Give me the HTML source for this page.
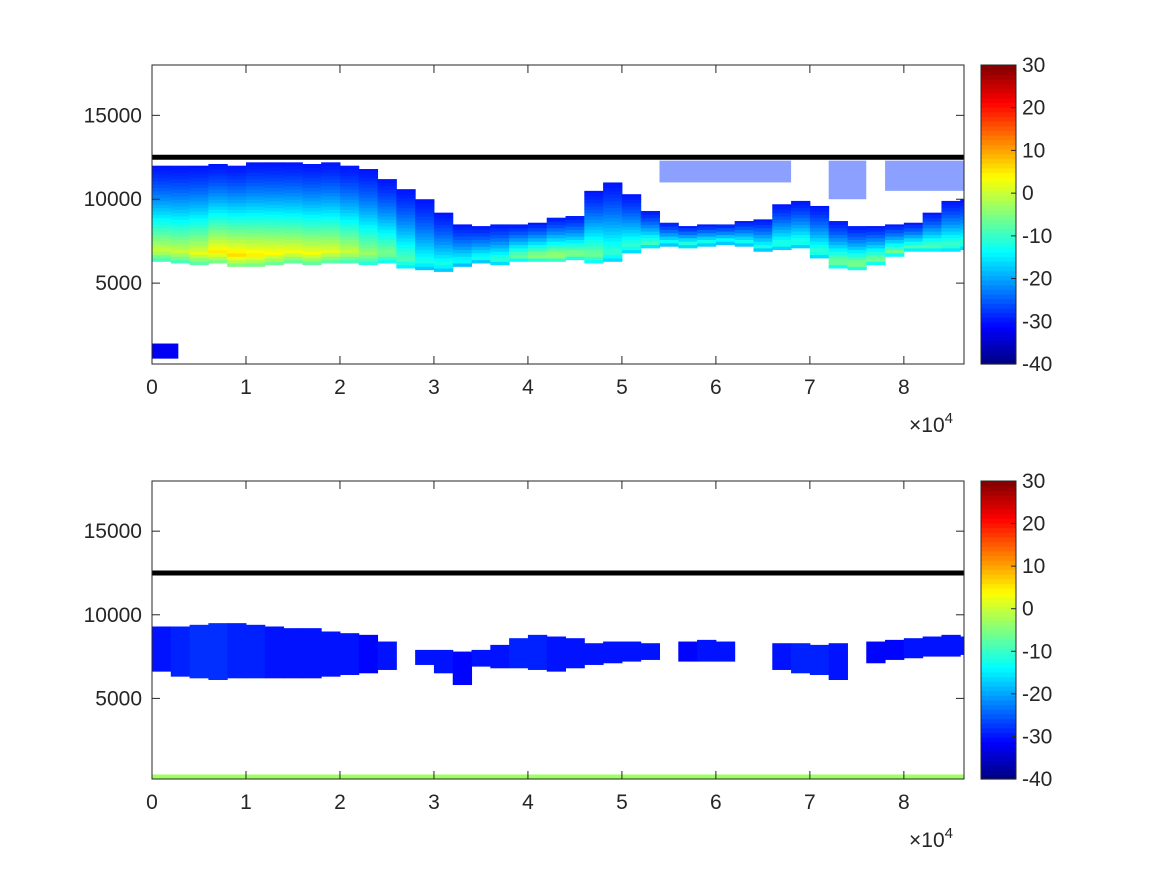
<!DOCTYPE html>
<html><head><meta charset="utf-8">
<style>
body{margin:0;background:#fff;}
svg text{font-family:"Liberation Sans",Helvetica,sans-serif;font-size:21px;fill:#262626;}
</style></head>
<body>
<svg id="fig" width="1167" height="875" viewBox="0 0 1167 875" xmlns="http://www.w3.org/2000/svg">
<defs>
<clipPath id="clipTop"><rect x="152" y="65" width="812" height="299"/></clipPath>
<clipPath id="clipBot"><rect x="152" y="481" width="812" height="298"/></clipPath>
</defs>
<rect width="1167" height="875" fill="#fff"/>
<g id="content"></g>
</svg>
<script>
// ---- data (2000 s bins, 0..86000 s) ----
const binTimes = [];
for (let i = 0; i < 44; i++) binTimes.push(1000 + 2000 * i);
const topCloudTop = [12000,12000,12000,12100,12000,12200,12200,12200,12100,12200,12000,11800,11200,10600,10000,9200,8500,8400,8500,8500,8600,8900,9000,10500,11000,10300,9300,8600,8400,8500,8500,8700,8800,9700,9900,9600,8700,8400,8400,8500,8600,9200,9900,10000];
const topCloudBase = [6300,6200,6100,6200,6000,6000,6100,6200,6100,6200,6200,6100,6200,5900,5800,5700,6000,6200,6100,6300,6300,6300,6400,6200,6300,6800,7100,7200,7100,7200,7300,7200,6900,7000,7100,6500,5900,5800,6100,6600,6900,6900,6900,7000];
const topCloudPeak = [0,0,2,5,6,5,4,3,3,2,0,-3,-5,-8,-12,-12,-13,-12,-10,-6,-3,-2,-4,-6,-10,-10,-9,-12,-10,-11,-12,-12,-12,-11,-11,-10,-5,-4,-5,-6,-8,-8,-9,-10];
const upperCloudStart = [54000, 72000, 78000];
const upperCloudEnd = [68000, 76000, 86400];
const upperCloudBottom = [11000, 10000, 10500];
const upperCloudTopH = [12300, 12300, 12300];
const botCloudTop = [9300,9300,9400,9500,9500,9400,9300,9200,9200,9000,8900,8800,8400,null,7900,7900,7800,7900,8200,8600,8800,8700,8600,8300,8400,8400,8300,null,8400,8500,8400,null,null,8300,8300,8200,8300,null,8400,8500,8600,8700,8800,8700];
const botCloudBase = [6600,6300,6200,6100,6200,6200,6200,6200,6200,6300,6400,6500,6700,null,7000,6500,5800,6900,6800,6800,6700,6600,6800,7000,7100,7200,7300,null,7200,7200,7200,null,null,6700,6500,6400,6100,null,7100,7300,7400,7500,7500,7600];
const botCloudVal = [-30,-29,-28,-28,-29,-29,-30,-30,-30,-30,-30,-31,-30,null,-30,-30,-31,-30,-30,-29,-29,-30,-30,-30,-30,-30,-30,null,-31,-30,-30,null,null,-30,-29,-29,-30,null,-31,-31,-30,-30,-30,-30];
const surfaceVal = -3;
const lineHeight = 12500;
const xTicks = [0,1,2,3,4,5,6,7,8];
const yTicks = [5000,10000,15000];
const cbTicks = [30,20,10,0,-10,-20,-30,-40];

const NS = "http://www.w3.org/2000/svg";
const root = document.getElementById('content');
function el(tag, attrs, parent) {
  const e = document.createElementNS(NS, tag);
  for (const k in attrs) e.setAttribute(k, attrs[k]);
  (parent || root).appendChild(e);
  return e;
}
function jet(v) {
  let t = Math.max(0, Math.min(1, (v + 40) / 70));
  const r = Math.max(0, Math.min(1, 1.5 - Math.abs(4 * t - 3)));
  const g = Math.max(0, Math.min(1, 1.5 - Math.abs(4 * t - 2)));
  const b = Math.max(0, Math.min(1, 1.5 - Math.abs(4 * t - 1)));
  return `rgb(${Math.round(r*255)},${Math.round(g*255)},${Math.round(b*255)})`;
}

function makePanel(name, y0, y1, clipId, drawFn) {
  const x0 = 152, x1 = 964;
  const hMin = 180, hMax = 18000;
  const sx = t => x0 + (t / 86400) * (x1 - x0);
  const sy = h => y1 - (h - hMin) / (hMax - hMin) * (y1 - y0);
  const g = el('g', {});
  
  
  const plot = el('g', {'clip-path': 'url(#' + clipId + ')'}, g);
  
  
  drawFn(plot, sx, sy);
  const ln = el('line', {x1: x0, x2: x1, y1: sy(lineHeight), y2: sy(lineHeight), stroke: '#000', 'stroke-width': 5}, g);
  
  
  const box = el('rect', {x: x0, y: y0, width: x1 - x0, height: y1 - y0, fill: 'none', stroke: '#262626', 'stroke-width': 1}, g);
  
  
  xTicks.forEach(v => {
    const x = sx(v * 10000);
    el('line', {x1: x, x2: x, y1: y1, y2: y1 - 8, stroke: '#262626'}, g);
    el('line', {x1: x, x2: x, y1: y0, y2: y0 + 8, stroke: '#262626'}, g);
    const t = el('text', {x: x, y: y1 + 30, 'text-anchor': 'middle'}, g);
    t.textContent = v;
    
    
  });
  yTicks.forEach(v => {
    const y = sy(v);
    el('line', {x1: x0, x2: x0 + 8, y1: y, y2: y, stroke: '#262626'}, g);
    el('line', {x1: x1, x2: x1 - 8, y1: y, y2: y, stroke: '#262626'}, g);
    const t = el('text', {x: x0 - 10, y: y + 7, 'text-anchor': 'end'}, g);
    t.textContent = v;
    
    
  });
  const ex = el('text', {x: 909, y: y1 + 68}, g);
  ex.innerHTML = '×10<tspan dy="-9" font-size="15">4</tspan>';
  
  
  const cx = 981, cw = 35;
  const cb = el('g', {}, g);
  
  
  const n = 64;
  for (let i = 0; i < n; i++) {
    const v = -40 + (i + 0.5) * 70 / n;
    const yy = y1 - (i + 1) * (y1 - y0) / n;
    el('rect', {x: cx, y: yy, width: cw, height: (y1 - y0) / n + 0.6, fill: jet(v)}, cb);
  }
  el('rect', {x: cx, y: y0, width: cw, height: y1 - y0, fill: 'none', stroke: '#262626'}, cb);
  cbTicks.forEach(v => {
    const y = y1 - (v + 40) / 70 * (y1 - y0);
    el('line', {x1: cx + cw, x2: cx + cw - 5, y1: y, y2: y, stroke: '#262626'}, cb);
    const t = el('text', {x: 1022, y: y + 7}, cb);
    t.textContent = v;
    
    
  });
}

const dt = 2000;
makePanel('top-panel', 65, 364, 'clipTop', (p, sx, sy) => {
  binTimes.forEach((t, i) => {
    const top = topCloudTop[i], base = topCloudBase[i], pk = topCloudPeak[i];
    const step = 200;
    for (let h = base; h < top; h += step) {
      const f = (h - base) / (top - base);
      const bump = f < 0.1 ? 0.7 + 3 * f : Math.pow(1 - (f - 0.1) / 0.9, 1.4);
      const v = -30 + (pk + 30) * bump;
      el('rect', {x: sx(t - dt/2), y: sy(Math.min(h + step, top)), width: sx(t + dt/2) - sx(t - dt/2) + 0.5, height: sy(h) - sy(Math.min(h + step, top)) + 0.5, fill: jet(v)}, p);
    }
  });
  upperCloudStart.forEach((s, i) => {
    const r = el('rect', {x: sx(s), y: sy(upperCloudTopH[i]), width: sx(upperCloudEnd[i]) - sx(s), height: sy(upperCloudBottom[i]) - sy(upperCloudTopH[i]), fill: jet(-28), opacity: 0.45}, p);
    
    
  });
  el('rect', {x: sx(0), y: sy(1400), width: sx(2800) - sx(0), height: sy(500) - sy(1400), fill: jet(-32)}, p);
});
makePanel('bottom-panel', 481, 779, 'clipBot', (p, sx, sy) => {
  binTimes.forEach((t, i) => {
    if (botCloudTop[i] == null) return;
    el('rect', {x: sx(t - dt/2), y: sy(botCloudTop[i]), width: sx(t + dt/2) - sx(t - dt/2) + 0.5, height: sy(botCloudBase[i]) - sy(botCloudTop[i]), fill: jet(botCloudVal[i])}, p);
  });
  const s = el('rect', {x: sx(0), y: sy(450), width: sx(86400) - sx(0), height: sy(180) - sy(450), fill: jet(surfaceVal)}, p);
  
  
});
</script>
</body></html>
